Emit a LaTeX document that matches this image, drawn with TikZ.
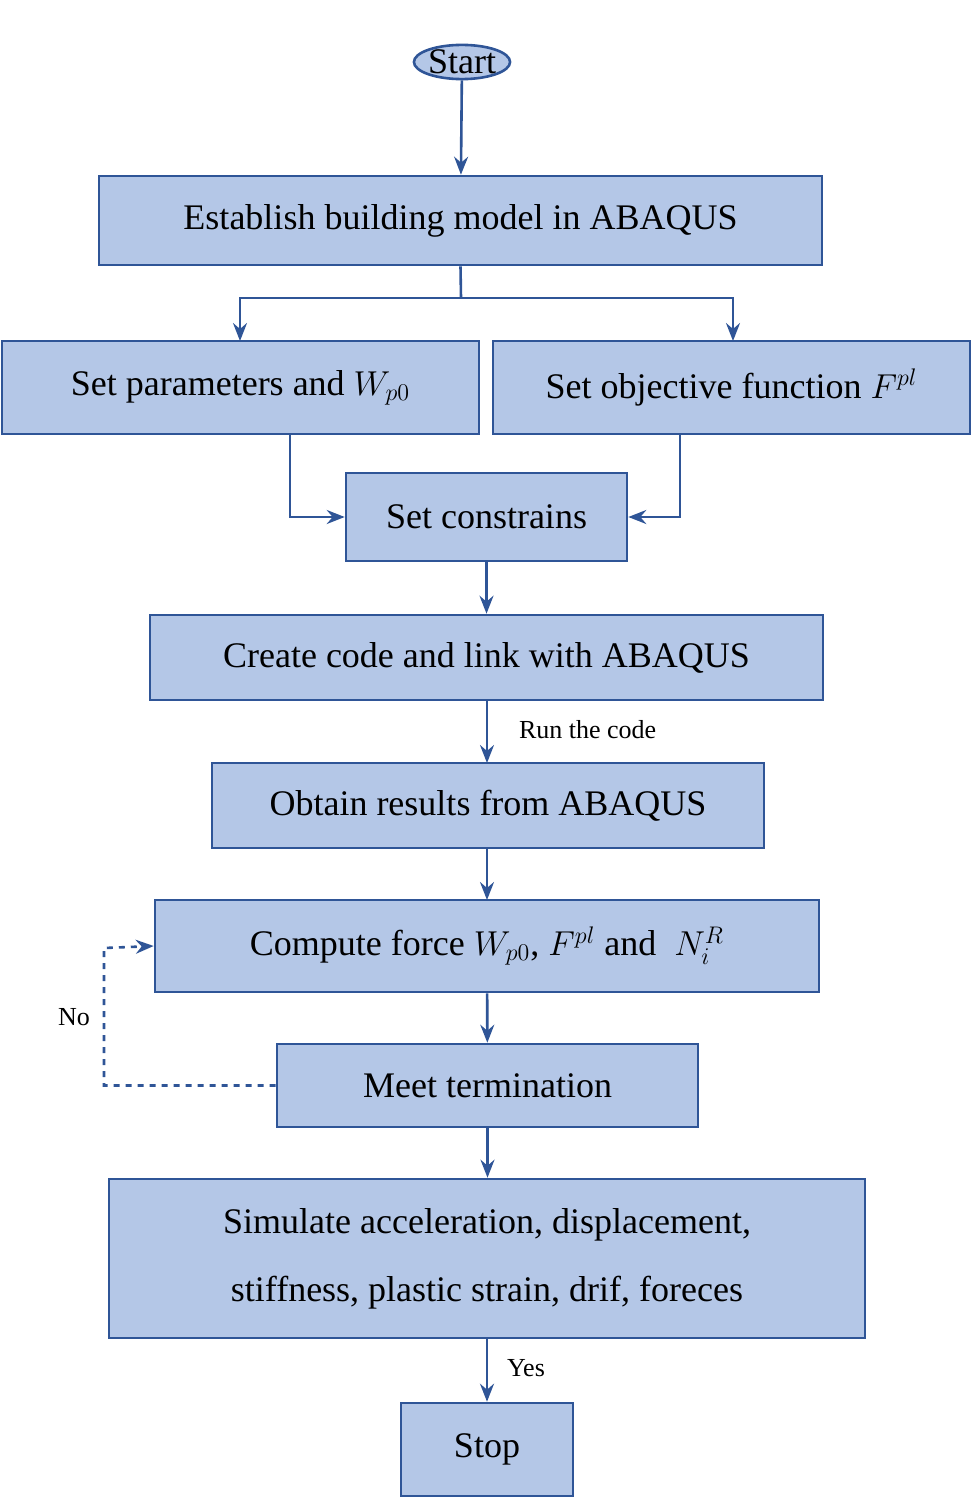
\documentclass[tikz,border=0pt]{standalone}
\usepackage{fontspec}
\setmainfont{Liberation Serif}
\usetikzlibrary{arrows.meta,shapes.geometric}
\definecolor{fillc}{HTML}{B4C7E7}
\definecolor{linec}{HTML}{2F5597}
\begin{document}
\begin{tikzpicture}[x=0.5pt,y=-0.5pt,
  box/.style={draw=linec,fill=fillc,line width=1.3pt,inner sep=0pt,font=\fontsize{18}{22}\selectfont},
  arr/.style={draw=linec,line width=1.3pt,-{Stealth[length=9pt,width=7pt,inset=3pt]}},
  lab/.style={font=\fontsize{13}{15}\selectfont}]
\useasboundingbox (0,0) rectangle (973,1498);
\node[box,ellipse,minimum width=222\dimexpr0.5pt,minimum height=116\dimexpr0.5pt] (start) at (462,62) {Start};
\node[box,minimum width=361.5pt,minimum height=44.5pt] (est) at (460.5,220.5) {Establish building model in ABAQUS};
\node[box,minimum width=238.5pt,minimum height=46.5pt] (par) at (240.5,387.5) {Set parameters and $W_{p0}$};
\node[box,minimum width=238.5pt,minimum height=46.5pt] (obj) at (731.5,387.5) {Set objective function $F^{pl}$};
\node[box,minimum width=140.5pt,minimum height=44pt] (con) at (486.5,517) {Set constrains};
\node[box,minimum width=336.5pt,minimum height=42.5pt] (code) at (486.5,657.5) {Create code and link with ABAQUS};
\node[box,minimum width=276pt,minimum height=42.5pt] (obt) at (488,805.5) {Obtain results from ABAQUS};
\node[box,minimum width=332pt,minimum height=46pt] (comp) at (487,946) {Compute force $W_{p0}$, $F^{pl}$ and \ $N_i^R$};
\node[box,minimum width=210.5pt,minimum height=41.5pt] (meet) at (487.5,1085.5) {Meet termination};
\node[box,minimum width=378pt,minimum height=79.5pt,align=center] (sim) at (487,1258.5)
  {Simulate acceleration, displacement,\\[12pt] stiffness, plastic strain, drif, foreces};
\node[box,minimum width=86pt,minimum height=46.5pt] (stop) at (487,1449.5) {Stop};

\draw[arr] (start) -- (est);
\coordinate (j) at (461,298);
\draw[draw=linec,line width=1.3pt] (est.south) -- (j);
\draw[arr] (j) -| (240,341);
\draw[arr] (j) -| (733,341);
\draw[arr] (290,434) |- (con.west);
\draw[arr] (680,434) |- (con.east);
\draw[arr] (con) -- (code);
\draw[arr] (code.south -| obt.north) ++(-1,0) -- (487,763);
\draw[arr] (obt.south) ++(-1,0) -- (487,900);
\draw[arr] (comp) -- (meet);
\draw[arr] (meet) -- (sim.north -| meet.south);
\draw[arr] (sim) -- (stop);
\draw[arr,dashed] (meet.west) -| (104,948) -- (comp.west);
\node[lab,anchor=west] at (512,730) {Run the code};
\node[lab] at (74,1017) {No};
\node[lab,anchor=west] at (500,1368) {Yes};
\end{tikzpicture}
\end{document}
